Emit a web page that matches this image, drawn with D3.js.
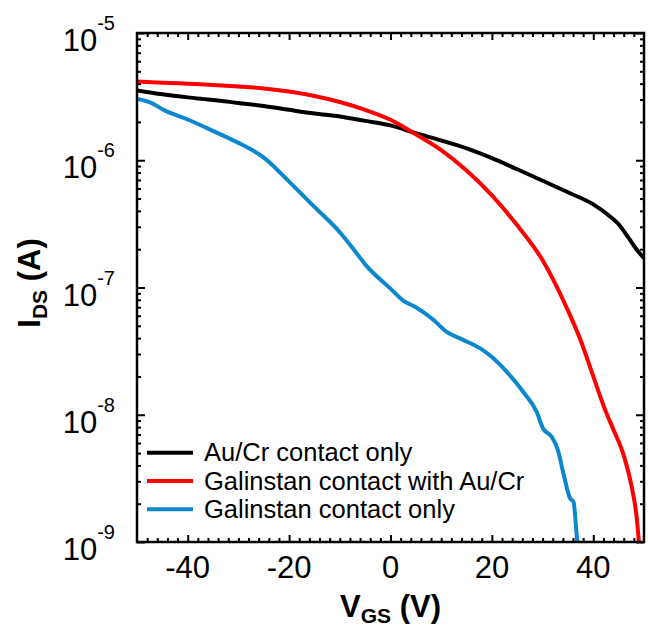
<!DOCTYPE html>
<html>
<head>
<meta charset="utf-8">
<script src="https://cdn.jsdelivr.net/npm/d3@7"></script>
<style>
  body { margin: 0; background: #fff; }
  text { font-family: "Liberation Sans", Arial, sans-serif; fill: #000; }
</style>
</head>
<body>
<div id="chart"></div>
<script>
var width = 648, height = 630;
var margin = {left: 137, right: 4, top: 33, bottom: 88};

// V_GS (V)
var auCrX = [-50, -45, -40, -35, -30, -25, -20, -15, -10, -5, 0, 5, 10, 15, 20, 25, 30, 35, 40, 43, 45, 47, 48.5, 50];
var auCrI = [3.54e-6, 3.3e-6, 3.12e-6, 2.98e-6, 2.82e-6, 2.67e-6, 2.49e-6, 2.33e-6, 2.21e-6, 2.04e-6, 1.88e-6, 1.63e-6, 1.43e-6, 1.24e-6, 1.04e-6, 8.5e-7, 6.9e-7, 5.6e-7, 4.5e-7, 3.7e-7, 3.14e-7, 2.44e-7, 2.0e-7, 1.7e-7];

var galAuX = [-50, -45, -40, -35, -30, -25, -20, -15, -10, -5, 0, 5, 10, 15, 20, 25, 30, 35, 37.5, 40, 42.5, 44, 46, 47.5, 48.5, 49];
var galAuI = [4.16e-6, 4.07e-6, 3.99e-6, 3.91e-6, 3.8e-6, 3.67e-6, 3.47e-6, 3.2e-6, 2.87e-6, 2.49e-6, 2.08e-6, 1.6e-6, 1.2e-6, 8.3e-7, 5.3e-7, 3.08e-7, 1.64e-7, 6.6e-8, 3.85e-8, 2.0e-8, 1.05e-8, 7.6e-9, 4.8e-9, 2.8e-9, 1.63e-9, 1.0e-9];

var galX = [-50, -47, -44.8, -40, -35, -30, -27.7, -25, -20, -15, -10, -7, -5, 0, 2.5, 5, 8.4, 11, 14, 17.7, 20, 22.9, 26.2, 28.8, 30.1, 31.8, 33, 34.1, 35.4, 36.1, 36.8, 37];
var galI = [3.04e-6, 2.8e-6, 2.49e-6, 2.09e-6, 1.7e-6, 1.37e-6, 1.23e-6, 1.05e-6, 6.8e-7, 4.3e-7, 2.72e-7, 1.93e-7, 1.52e-7, 9.8e-8, 7.9e-8, 7.0e-8, 5.6e-8, 4.5e-8, 3.93e-8, 3.32e-8, 2.84e-8, 2.18e-8, 1.51e-8, 1.06e-8, 7.8e-9, 6.7e-9, 5.3e-9, 3.47e-9, 2.21e-9, 2.07e-9, 1.05e-9, 9e-10];

var seriesNames = ["Au/Cr contact only", "Galinstan contact with Au/Cr", "Galinstan contact only"];
var seriesColors = ["#000000", "#ff0000", "#0b87d0"];

var xTicks = [-40, -20, 0, 20, 40];
var yTicks = [1e-9, 1e-8, 1e-7, 1e-6, 1e-5];
var yExponents = ["-9", "-8", "-7", "-6", "-5"];

var series = [
  {name: seriesNames[0], color: seriesColors[0], xs: auCrX, ys: auCrI},
  {name: seriesNames[1], color: seriesColors[1], xs: galAuX, ys: galAuI},
  {name: seriesNames[2], color: seriesColors[2], xs: galX, ys: galI}
];

var svg = d3.select("#chart").append("svg")
  .attr("width", width)
  .attr("height", height);

var x = d3.scaleLinear().domain([-50, 50]).range([margin.left, width - margin.right]);
var y = d3.scaleLog().domain([1e-9, 1e-5]).range([height - margin.bottom, margin.top]);

var x0 = x.range()[0], x1 = x.range()[1], y0 = y.range()[0], y1 = y.range()[1];

svg.append("clipPath").attr("id", "plotclip")
  .append("rect")
  .attr("x", x0).attr("y", y1)
  .attr("width", x1 - x0).attr("height", y0 - y1);

var minorX = d3.range(-48, 50, 2).filter(function (v) { return v % 20 !== 0; });
var minorY = [];
[1e-9, 1e-8, 1e-7, 1e-6].forEach(function (d) {
  for (var k = 2; k <= 9; k++) minorY.push(d * k);
});

function tickGroup(axis, tx, ty) {
  var g = svg.append("g").attr("transform", "translate(" + tx + "," + ty + ")").call(axis);
  g.select(".domain").remove();
  g.selectAll("line").attr("stroke", "#000").attr("stroke-width", 2);
  g.selectAll("text").remove();
  return g;
}

// ticks point inward on all four sides
tickGroup(d3.axisBottom(x).tickValues(xTicks).tickSize(-7), 0, y0);
tickGroup(d3.axisBottom(x).tickValues(minorX).tickSize(-4), 0, y0);
tickGroup(d3.axisTop(x).tickValues(xTicks).tickSize(-7), 0, y1);
tickGroup(d3.axisTop(x).tickValues(minorX).tickSize(-4), 0, y1);
tickGroup(d3.axisLeft(y).tickValues(yTicks).tickSize(-8), x0, 0);
tickGroup(d3.axisLeft(y).tickValues(minorY).tickSize(-4), x0, 0);
tickGroup(d3.axisRight(y).tickValues(yTicks).tickSize(-8), x1, 0);
tickGroup(d3.axisRight(y).tickValues(minorY).tickSize(-4), x1, 0);

var line = d3.line()
  .x(function (d) { return x(d[0]); })
  .y(function (d) { return y(d[1]); })
  .curve(d3.curveMonotoneX);

svg.append("g")
  .attr("clip-path", "url(#plotclip)")
  .selectAll("path")
  .data(series)
  .enter()
  .append("path")
    .attr("d", function (s) { return line(s.xs.map(function (v, i) { return [v, s.ys[i]]; })); })
    .attr("fill", "none")
    .attr("stroke", function (s) { return s.color; })
    .attr("stroke-width", 4)
    .attr("stroke-linejoin", "round");

svg.append("rect")
  .attr("x", x0).attr("y", y1)
  .attr("width", x1 - x0).attr("height", y0 - y1)
  .attr("fill", "none")
  .attr("stroke", "#000")
  .attr("stroke-width", 2.5);

// tick labels
svg.append("g").selectAll("text")
  .data(xTicks)
  .enter()
  .append("text")
    .attr("x", function (d) { return x(d); })
    .attr("y", y0 + 36)
    .attr("text-anchor", "middle")
    .style("font-size", "31px")
    .text(function (d) { return d; });

var yl = svg.append("g").selectAll("text")
  .data(yTicks)
  .enter()
  .append("text")
    .attr("x", x0 - 22)
    .attr("y", function (d) { return y(d) + 18; })
    .attr("text-anchor", "end")
    .style("font-size", "31px");
yl.append("tspan").text("10");
yl.append("tspan")
  .attr("dy", -21)
  .style("font-size", "20px")
  .text(function (d, i) { return yExponents[i]; });

// axis titles
var xt = svg.append("text")
  .attr("x", (x0 + x1) / 2)
  .attr("y", 617)
  .attr("text-anchor", "middle")
  .style("font-size", "31px")
  .style("font-weight", "bold");
xt.append("tspan").text("V");
xt.append("tspan").attr("dy", 6).style("font-size", "21px").text("GS");
xt.append("tspan").attr("dy", -6).text(" (V)");

var yt = svg.append("text")
  .attr("transform", "translate(40," + 283 + ") rotate(-90)")
  .attr("text-anchor", "middle")
  .style("font-size", "31px")
  .style("font-weight", "bold");
yt.append("tspan").text("I");
yt.append("tspan").attr("dy", 7).style("font-size", "21px").text("DS");
yt.append("tspan").attr("dy", -7).text(" (A)");

// legend
var legend = svg.append("g").selectAll("g")
  .data(series)
  .enter()
  .append("g")
    .attr("transform", function (d, i) { return "translate(147," + (452.7 + i * 28.3) + ")"; });
legend.append("line")
  .attr("x1", 0).attr("x2", 46)
  .attr("stroke", function (d) { return d.color; })
  .attr("stroke-width", 4);
legend.append("text")
  .attr("x", 57)
  .attr("y", 8.5)
  .style("font-size", "25.5px")
  .text(function (d) { return d.name; });
</script>
</body>
</html>
